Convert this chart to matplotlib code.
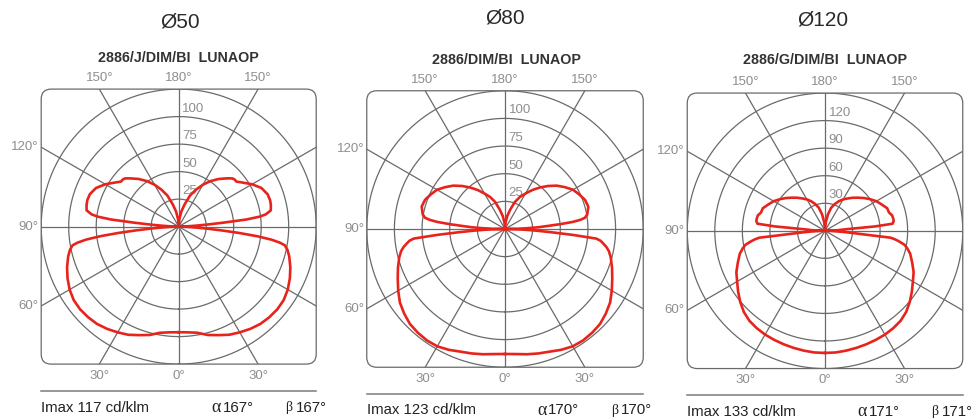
import numpy as np
import matplotlib
matplotlib.use("Agg")
import matplotlib.pyplot as plt
from matplotlib.patches import FancyBboxPatch
from matplotlib.lines import Line2D
from matplotlib.transforms import Bbox, TransformedBbox

plt.rcParams['font.family'] = ['Liberation Sans', 'DejaVu Sans']

W, H = 975, 420

# ---- photometric data: gamma angle (deg) -> intensity (cd/klm) ----
# Ø50  2886/J/DIM/BI
gamma_50 = [0, 5, 10, 15, 20, 25, 30, 35, 40, 45, 50, 55, 60, 65, 70, 75, 78, 80,
            81, 82, 83, 84, 85, 86, 87, 88, 89, 90,
            91, 92, 93, 94, 95, 96, 97, 98, 100, 103, 106, 110, 115, 120, 125, 128,
            130, 132, 135, 140, 145, 150, 155, 160, 165, 170, 175, 180]
cdklm_50 = [96, 96.5, 98, 102, 105, 108.5, 111, 113.5, 115.5, 116.5, 117, 116.5, 114.5,
            111.5, 108, 104, 101, 98, 93, 85, 72, 55, 38, 25, 15, 8, 3, 0,
            3, 8, 15, 25, 40, 62, 74, 80, 85, 86, 86.5, 86, 83, 77, 70, 66.5,
            66.5, 65.5, 62, 56.5, 50.5, 44, 37, 30, 21, 14, 7, 0]

# Ø80  2886/DIM/BI
gamma_80 = [0, 5, 10, 15, 20, 25, 30, 35, 40, 45, 50, 55, 60, 65, 70, 75, 78, 80,
            82, 83, 84, 85, 86, 87, 88, 89, 90,
            91, 92, 93, 94, 95, 96, 97, 98, 100, 105, 110, 115, 120, 125, 130, 135,
            140, 145, 150, 155, 160, 165, 170, 175, 180]
cdklm_80 = [113, 113.5, 115, 116.5, 118, 120.5, 122.5, 123, 122.5, 121.5, 119, 116,
            111.5, 107, 103, 99, 96, 93, 89, 87, 83, 62, 42, 28, 17, 8, 0,
            10, 20, 30, 38, 50, 62, 69, 73, 75.5, 78, 77, 74, 71, 66, 61, 55,
            49, 43, 37, 32, 26, 18, 12, 6, 0]

# Ø120  2886/G/DIM/BI
gamma_120 = [0, 5, 10, 15, 20, 25, 30, 35, 40, 45, 50, 55, 60, 65, 70, 75, 78, 80,
             82, 83, 84, 85, 86, 87, 88, 89, 90,
             91, 92, 93, 94, 95, 96, 98, 100, 103, 104, 106, 110, 115, 120, 125, 130,
             135, 140, 145, 150, 155, 160, 165, 170, 175, 180]
cdklm_120 = [133, 133, 132.5, 132, 131.5, 131, 130.5, 129.5, 128, 125, 120.5, 115.5,
             110.5, 106.5, 101, 96, 91.5, 88, 81, 77, 72, 36, 24, 15, 9, 4, 0,
             4, 9, 15, 20, 55, 74, 75.5, 75.5, 75, 74, 72.5, 72, 68, 64.5, 60, 55.5,
             51, 47, 43, 39.5, 35.5, 31, 26, 18, 9, 0]

rings_50 = [25, 50, 75, 100, 125]
rings_80 = [25, 50, 75, 100, 125]
rings_120 = [30, 60, 90, 120, 150]

titles = ["Ø50", "Ø80", "Ø120"]
codes = ["2886/J/DIM/BI  LUNAOP", "2886/DIM/BI  LUNAOP", "2886/G/DIM/BI  LUNAOP"]
imax_values = [117, 123, 133]
alpha_values = [167, 170, 171]
beta_values = [167, 170, 171]

GRID = "#6a6a6a"
LABEL = "#8e8e8e"
RED = "#e8231c"
DARK = "#222222"

fig = plt.figure(figsize=(W / 100, H / 100), dpi=100)


def fx(x):
    return x / W


def fy(y):
    return 1 - y / H


def draw_panel(cx, cy, side, rings, gammas, values, title, code, imax, alpha, beta,
               title_xy, code_xy, base_y, clip_right):
    x0 = cx - side / 2
    y0 = cy - side / 2
    ax = fig.add_axes([fx(x0), fy(y0 + side), side / W, side / H], projection='polar')
    ax.set_theta_zero_location('S')
    ax.set_ylim(0, rings[-1])
    ax.set_xticks([])
    ax.set_yticks([])
    ax.grid(False)
    ax.spines['polar'].set_visible(False)
    ax.patch.set_visible(False)

    box = FancyBboxPatch((0, 0), 1, 1, boxstyle="round,pad=0,rounding_size=0.036",
                         transform=ax.transAxes, fill=False, edgecolor=GRID,
                         linewidth=0.9, clip_on=False, zorder=3)
    ax.add_patch(box)

    th = np.linspace(0, 2 * np.pi, 721)
    for r in rings:
        ln, = ax.plot(th, np.full_like(th, r), color=GRID, lw=0.9, zorder=1)
        ln.set_clip_path(box)
    for a in range(0, 360, 30):
        t = np.radians(a)
        ln, = ax.plot([t, t], [0, rings[-1] * 1.6], color=GRID, lw=0.9, zorder=1)
        ln.set_clip_path(box)

    for r in rings[:-1]:
        ax.annotate(str(r), xy=(np.pi, r), xytext=(2.5, 1.5), textcoords='offset points',
                    ha='left', va='bottom', fontsize=9.5, color=LABEL, zorder=4)

    g = np.radians(np.asarray(gammas, dtype=float))
    v = np.asarray(values, dtype=float)
    theta = np.concatenate([g, 2 * np.pi - g[::-1]])
    rad = np.concatenate([v, v[::-1]])
    cur, = ax.plot(theta, rad, color=RED, lw=1.9, zorder=5, solid_joinstyle='round')
    cur.set_clip_path(box)

    # angle labels outside the frame
    t30 = np.tan(np.radians(30)) / 2
    top_lbls = [(0.5 - t30, "150°"), (0.5, "180°"), (0.5 + t30, "150°")]
    for xa, s in top_lbls:
        ax.annotate(s, xy=(xa, 1.0), xycoords='axes fraction', xytext=(0, 3.5),
                    textcoords='offset points', ha='center', va='bottom',
                    fontsize=9.5, color=LABEL)
    bot_lbls = [(0.5 - t30, "30°"), (0.5, "0°"), (0.5 + t30, "30°")]
    for xa, s in bot_lbls:
        ax.annotate(s, xy=(xa, 0.0), xycoords='axes fraction', xytext=(0, -4),
                    textcoords='offset points', ha='center', va='top',
                    fontsize=9.5, color=LABEL)
    left_lbls = [(0.5 + t30, "120°"), (0.5, "90°"), (0.5 - t30, "60°")]
    for ya, s in left_lbls:
        ax.annotate(s, xy=(0.0, ya), xycoords='axes fraction', xytext=(-2, 0),
                    textcoords='offset points', ha='right', va='center',
                    fontsize=9.5, color=LABEL)

    fig.text(fx(title_xy[0]), fy(title_xy[1]), title, ha='center', va='center',
             fontsize=15, color="#2a2a2a")
    fig.text(fx(code_xy[0]), fy(code_xy[1]), code, ha='center', va='center',
             fontsize=10.3, fontweight='bold', color="#333333")

    fig.add_artist(Line2D([fx(x0), fx(x0 + side)], [fy(base_y), fy(base_y)],
                          color="#7a7a7a", lw=1.1, transform=fig.transFigure))

    ty = base_y + 17
    clip = TransformedBbox(Bbox([[0, 0], [fx(clip_right), 1]]), fig.transFigure)
    items = [
        (x0, f"Imax {imax} cd/klm", dict(fontsize=10.8)),
        (x0 + 170.5, "α", dict(fontsize=13, family=['Liberation Serif', 'DejaVu Serif'])),
        (x0 + 181.5, f"{alpha}°", dict(fontsize=10.8)),
        (x0 + 244, "β", dict(fontsize=10, family=['Liberation Serif', 'DejaVu Serif'])),
        (x0 + 254.5, f"{beta}°", dict(fontsize=10.8)),
    ]
    for x, s, kw in items:
        t = fig.text(fx(x), fy(ty), s, ha='left', va='center', color=DARK, **kw)
        t.set_clip_box(clip)
        t.set_clip_on(True)


draw_panel(178.7, 226.6, 275, rings_50, gamma_50, cdklm_50, titles[0], codes[0],
           imax_values[0], alpha_values[0], beta_values[0],
           (180, 22), (178.5, 58), 391, 660)
draw_panel(505, 229, 276.5, rings_80, gamma_80, cdklm_80, titles[1], codes[1],
           imax_values[1], alpha_values[1], beta_values[1],
           (505, 18), (506, 60), 393.5, 652)
draw_panel(825, 230.8, 275.5, rings_120, gamma_120, cdklm_120, titles[2], codes[2],
           imax_values[2], alpha_values[2], beta_values[2],
           (823, 20), (825, 60), 394.5, 975)

fig.savefig("out.png", dpi=100)
